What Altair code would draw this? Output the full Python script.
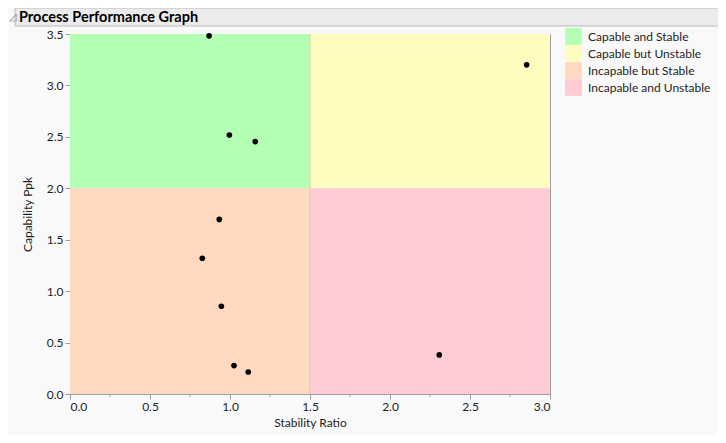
from __future__ import annotations

import altair as alt
import pandas as pd


FONT = "Lato, Noto Sans, sans-serif"
AXIS_GREY = "#A0A0A0"
INK = "#1E1E1E"
PANEL = "#F9F9F9"

TITLE = "Process Performance Graph"

# quadrant regions (data units)
quadrants = ["Capable and Stable", "Capable but Unstable",
             "Incapable but Stable", "Incapable and Unstable"]
quad_colors = ["#B3FFB3", "#FFFCBF", "#FFD9BF", "#FFCCD5"]
quad_x0 = [0.0, 1.5, 0.0, 1.5]
quad_x1 = [1.5, 3.0, 1.5, 3.0]
quad_y0 = [2.0, 2.0, 0.0, 0.0]
quad_y1 = [3.5, 3.5, 2.0, 2.0]
stability_limit = [1.5]

# processes
stability_ratio = [0.869, 0.996, 1.158, 2.854, 0.933, 0.827, 0.946, 1.025, 1.114, 2.308]
capability_ppk = [3.482, 2.518, 2.454, 3.200, 1.697, 1.320, 0.853, 0.276, 0.214, 0.380]

x_ticks = [0.0, 0.5, 1.0, 1.5, 2.0, 2.5, 3.0]
x_minor = [0.25, 0.75, 1.25, 1.75, 2.25, 2.75]
y_ticks = [0.0, 0.5, 1.0, 1.5, 2.0, 2.5, 3.0, 3.5]

W, H = 480, 360

quad_df = pd.DataFrame({
    "quadrant": quadrants,
    "x0": quad_x0, "x1": quad_x1, "y0": quad_y0, "y1": quad_y1,
})
pts_df = pd.DataFrame({"stability": stability_ratio, "ppk": capability_ppk})

x_scale = alt.Scale(domain=[0, 3], nice=False, zero=False)
y_scale = alt.Scale(domain=[0, 3.5], nice=False, zero=False)

regions = alt.Chart(quad_df).mark_rect().encode(
    x=alt.X(
        "x0:Q",
        scale=x_scale,
        title="Stability Ratio",
        axis=alt.Axis(values=x_ticks, format=".1f", titlePadding=5),
    ),
    x2="x1:Q",
    y=alt.Y(
        "y0:Q",
        scale=y_scale,
        title="Capability Ppk",
        axis=alt.Axis(values=y_ticks, format=".1f", titlePadding=12),
    ),
    y2="y1:Q",
    color=alt.Color(
        "quadrant:N",
        scale=alt.Scale(domain=quadrants, range=quad_colors),
        sort=quadrants,
        legend=alt.Legend(
            title=None,
            orient="none",
            legendX=495,
            legendY=-6,
            symbolType="square",
            symbolSize=280,
            symbolStrokeWidth=0,
            symbolOpacity=1,
            labelFontSize=12,
            labelFont=FONT,
            labelColor=INK,
            labelOffset=6,
            rowPadding=0,
            padding=0,
        ),
    ),
)

divider = alt.Chart(pd.DataFrame({"x": stability_limit})).mark_rule(
    color="#D2CDBE", strokeWidth=1
).encode(x=alt.X("x:Q", scale=x_scale))

minor = alt.Chart(pd.DataFrame({"x": x_minor})).mark_rule(
    color=AXIS_GREY, strokeWidth=1
).encode(
    x=alt.X("x:Q", scale=x_scale),
    y=alt.value(H),
    y2=alt.value(H + 3),
)

points = alt.Chart(pts_df).mark_point(
    filled=True, color="black", opacity=1, size=32, shape="circle"
).encode(
    x=alt.X("stability:Q", scale=x_scale),
    y=alt.Y("ppk:Q", scale=y_scale),
)

header_df = pd.DataFrame({"label": [TITLE]})
header_box = alt.Chart(header_df).mark_rect(
    fill="#EBEBEB", stroke="#BDBDBD", strokeWidth=1
).encode(
    x=alt.value(-55), x2=alt.value(649),
    y=alt.value(-26), y2=alt.value(-8),
)
header_text = alt.Chart(header_df).mark_text(
    align="left", baseline="alphabetic", font=FONT, fontSize=14.5,
    fontWeight="bold", color="black",
).encode(
    x=alt.value(-51), y=alt.value(-12.5), text="label:N",
)
header_icon = alt.Chart(pd.DataFrame({"icon": ["◿"]})).mark_text(
    align="left", baseline="alphabetic", fontSize=10, color="#8C8C8C",
).encode(
    x=alt.value(-61), y=alt.value(-14), text="icon:N",
)

chart = (
    alt.layer(regions, divider, minor, points, header_box, header_icon, header_text)
    .properties(
        width=W,
        height=H,
        background=PANEL,
        autosize=alt.AutoSizeParams(type="none"),
        padding={"left": 62, "top": 26, "right": 168, "bottom": 41},
    )
    .configure_view(stroke=AXIS_GREY, strokeWidth=1)
    .configure_axis(
        grid=False,
        domainColor=AXIS_GREY,
        tickColor=AXIS_GREY,
        tickSize=5,
        labelFont=FONT,
        labelFontSize=12,
        labelColor=INK,
        labelPadding=2,
        titleFont=FONT,
        titleFontSize=12,
        titleFontWeight="normal",
        titleColor=INK,
    )
)

chart.save("out.html", embed_options={"renderer": "svg", "actions": False})
